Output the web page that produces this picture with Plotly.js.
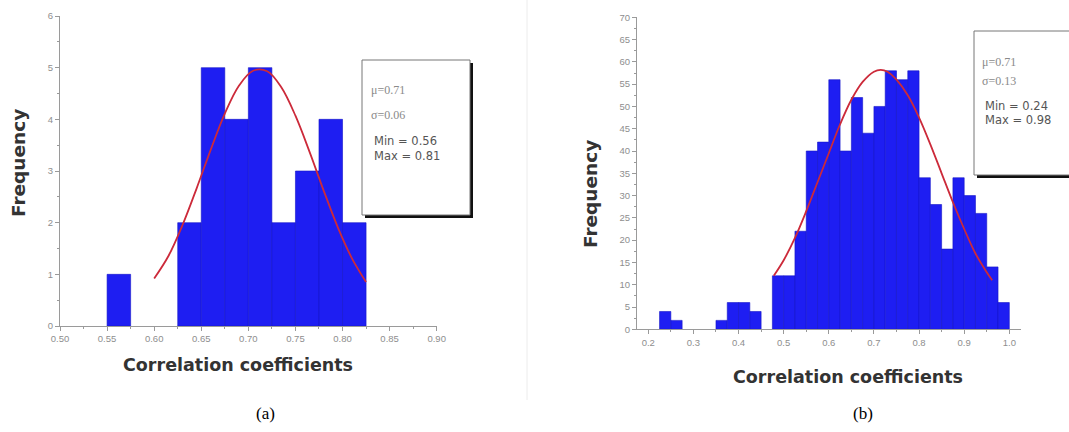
<!DOCTYPE html>
<html>
<head>
<meta charset="utf-8">
<script src="https://cdn.plot.ly/plotly-3.0.1.min.js"></script>
<style>html,body{margin:0;padding:0;background:#fff;}#chart{width:1069px;height:432px;}</style>
</head>
<body>
<div id="chart"></div>
<script>
// ---- Panel (a) data ----
const binCentersA = [0.5625, 0.6375, 0.6625, 0.6875, 0.7125, 0.7375, 0.7625, 0.7875, 0.8125];
const countsA     = [1, 2, 5, 4, 5, 2, 3, 4, 2];
const fitXA = [0.600,0.615,0.630,0.645,0.660,0.675,0.690,0.705,0.720,0.735,0.750,0.765,0.780,0.795,0.810,0.825];
const fitYA = [0.92,1.35,1.95,2.66,3.41,4.11,4.65,4.94,4.93,4.62,4.07,3.37,2.62,1.91,1.31,0.85];
const ticksXA = [0.50,0.55,0.60,0.65,0.70,0.75,0.80,0.85,0.90];
const tickTextXA = ["0.50","0.55","0.60","0.65","0.70","0.75","0.80","0.85","0.90"];
const statsA = ["μ=0.71","σ=0.06","Min = 0.56","Max = 0.81"];

// ---- Panel (b) data ----
const binCentersB = [0.2375,0.2625,0.3625,0.3875,0.4125,0.4375,0.4875,0.5125,0.5375,0.5625,0.5875,0.6125,0.6375,0.6625,0.6875,0.7125,0.7375,0.7625,0.7875,0.8125,0.8375,0.8625,0.8875,0.9125,0.9375,0.9625,0.9875];
const countsB     = [4,2,2,6,6,4,12,12,22,40,42,56,40,52,44,50,58,56,58,34,28,18,34,30,26,14,6];
const fitXB = [0.478,0.500,0.525,0.550,0.575,0.600,0.625,0.650,0.675,0.700,0.715,0.730,0.750,0.775,0.800,0.825,0.850,0.875,0.900,0.925,0.950,0.962];
const fitYB = [12,15.5,20.5,26.5,33,39.5,46,51.5,55.5,57.8,58.2,57.8,56,52.5,47.5,41.5,35,28.5,22.5,17,12.8,11];
const ticksXB = [0.2,0.3,0.4,0.5,0.6,0.7,0.8,0.9,1.0];
const tickTextXB = ["0.2","0.3","0.4","0.5","0.6","0.7","0.8","0.9","1.0"];
const statsB = ["μ=0.71","σ=0.13","Min = 0.24","Max = 0.98"];

const W = 1069, H = 432;
const px = x => x / W;
const py = y => 1 - y / H;

const barColor = '#1e1ef2';
const fitColor = '#cc2a3a';
const axisColor = '#9a9a9a';
const tickFont = {family: 'Arial, Liberation Sans, sans-serif', size: 9.5, color: '#8e8e8e'};

const traces = [
  {type:'bar', x: binCentersA, y: countsA, width: 0.025, xaxis:'x', yaxis:'y',
   marker:{color: barColor, line:{color:'#1414c8', width:0.6}}, hoverinfo:'x+y'},
  {type:'scatter', mode:'lines', x: fitXA, y: fitYA, xaxis:'x', yaxis:'y',
   line:{color: fitColor, width:1.8, shape:'spline'}},
  {type:'bar', x: binCentersB, y: countsB, width: 0.025, xaxis:'x2', yaxis:'y2',
   marker:{color: barColor, line:{color:'#1414c8', width:0.6}}, hoverinfo:'x+y'},
  {type:'scatter', mode:'lines', x: fitXB, y: fitYB, xaxis:'x2', yaxis:'y2',
   line:{color: fitColor, width:1.8, shape:'spline'}}
];

const axisCommon = {
  showgrid:false, zeroline:false, showline:true, linecolor: axisColor, linewidth:1,
  ticks:'outside', ticklen:4, tickcolor: axisColor, tickwidth:1, tickfont: tickFont,
  fixedrange:true
};

const layout = {
  width: W, height: H,
  margin:{l:0,r:0,t:0,b:0},
  paper_bgcolor:'#ffffff', plot_bgcolor:'rgba(0,0,0,0)',
  showlegend:false,
  bargap:0,
  xaxis: Object.assign({}, axisCommon, {
    domain:[px(60), px(436.7)], range:[0.5,0.9], anchor:'y',
    tickmode:'array', tickvals: ticksXA, ticktext: tickTextXA,
    minor:{dtick:0.025, ticks:'outside', ticklen:2, tickcolor: axisColor}
  }),
  yaxis: Object.assign({}, axisCommon, {
    domain:[py(326), py(16)], range:[0,6], anchor:'x',
    dtick:1,
    minor:{dtick:0.5, ticks:'outside', ticklen:2, tickcolor: axisColor}
  }),
  xaxis2: Object.assign({}, axisCommon, {
    domain:[px(637), px(1020.6)], range:[0.175,1.025], anchor:'y2',
    tickmode:'array', tickvals: ticksXB, ticktext: tickTextXB,
    minor:{dtick:0.05, ticks:'outside', ticklen:2, tickcolor: axisColor}
  }),
  yaxis2: Object.assign({}, axisCommon, {
    domain:[py(329.3), py(17.3)], range:[0,70], anchor:'x2',
    dtick:5,
    minor:{dtick:2.5, ticks:'outside', ticklen:2, tickcolor: axisColor}
  }),
  shapes: [
    {type:'line', xref:'paper', yref:'paper', x0:px(527), x1:px(527), y0:py(0), y1:py(400),
     line:{color:'#ececec', width:1}},
    {type:'rect', xref:'paper', yref:'paper', x0:px(365), x1:px(473), y0:py(218), y1:py(63),
     fillcolor:'#111', line:{width:0}},
    {type:'rect', xref:'paper', yref:'paper', x0:px(362), x1:px(470), y0:py(215), y1:py(60),
     fillcolor:'#ffffff', line:{color:'#777', width:1}},
    {type:'rect', xref:'paper', yref:'paper', x0:px(977), x1:px(1072), y0:py(178), y1:py(34),
     fillcolor:'#111', line:{width:0}},
    {type:'rect', xref:'paper', yref:'paper', x0:px(974), x1:px(1070), y0:py(175), y1:py(31),
     fillcolor:'#ffffff', line:{color:'#777', width:1}}
  ],
  annotations: []
};

function ann(text, x, y, font, opts) {
  layout.annotations.push(Object.assign({
    text: text, xref:'paper', yref:'paper', x: px(x), y: py(y),
    showarrow:false, font: font, xanchor:'left', yanchor:'middle'
  }, opts || {}));
}

const serifSmall = {family:'Liberation Serif, Times New Roman, serif', size:12, color:'#8a8a8a'};
const sansSmall = {family:'DejaVu Sans, Verdana, sans-serif', size:11.5, color:'#555'};
const titleFont = {family:'DejaVu Sans, Verdana, sans-serif', size:17.5, color:'#333'};
const capFont = {family:'Liberation Serif, Times New Roman, serif', size:17, color:'#000'};

// stats (a)
ann(statsA[0], 369, 90, serifSmall);
ann(statsA[1], 369, 115, serifSmall);
ann(statsA[2], 372, 141, sansSmall);
ann(statsA[3], 372, 156, sansSmall);
// stats (b)
ann(statsB[0], 980, 62, serifSmall);
ann(statsB[1], 980, 81, serifSmall);
ann(statsB[2], 983, 106, sansSmall);
ann(statsB[3], 983, 120, sansSmall);

// axis titles
ann('<b>Frequency</b>', 18, 163, Object.assign({}, titleFont, {size:18.5}), {xanchor:'center', textangle:-90});
ann('<b>Correlation coefficients</b>', 238, 365, titleFont, {xanchor:'center'});
ann('<b>Frequency</b>', 590, 194, Object.assign({}, titleFont, {size:18.5}), {xanchor:'center', textangle:-90});
ann('<b>Correlation coefficients</b>', 848, 377, titleFont, {xanchor:'center'});

// captions
ann('(a)', 265, 413, capFont, {xanchor:'center'});
ann('(b)', 863, 413, capFont, {xanchor:'center'});

Plotly.newPlot('chart', traces, layout, {displayModeBar:false, staticPlot:true});
</script>
</body>
</html>
